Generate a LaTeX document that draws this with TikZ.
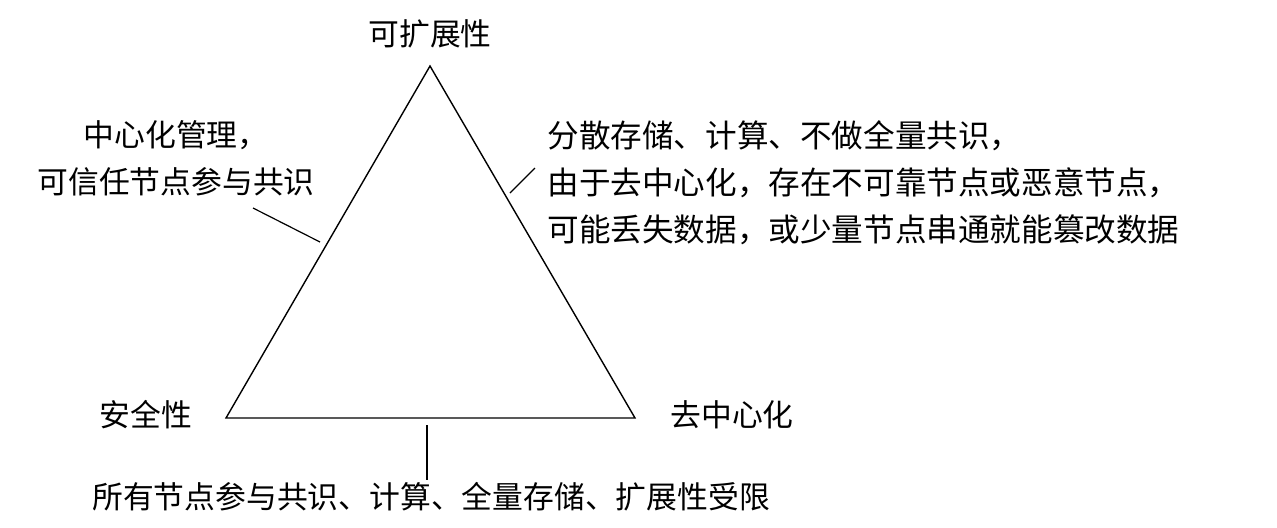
\documentclass[tikz,border=0pt]{standalone}
\usepackage{fontspec}
\setmainfont{Noto Sans CJK SC}
\begin{document}
\begin{tikzpicture}[x=0.5pt,y=-0.5pt,
  lbl/.style={inner sep=0pt,font=\fontsize{15.4}{23.5}\selectfont},
  wide/.style={inner sep=0pt,font=\fontsize{15.8}{23.5}\selectfont},
  edge/.style={draw=black,line width=0.7pt},
  tick/.style={draw=black,line width=0.6pt}]
\useasboundingbox (0,0) rectangle (1277,527);
\coordinate (top) at (430,66);
\coordinate (bl) at (226,418);
\coordinate (br) at (635,418);
\draw[edge,line join=miter] (top) -- (bl) -- (br) -- cycle;
\node[lbl] (tlab) at (430,34) {可扩展性};
\node[lbl] (llab) at (146,415) {安全性};
\node[lbl] (rlab) at (732,415) {去中心化};
\node[lbl,align=center] (ltxt) at (176,158) {中心化管理，\\可信任节点参与共识};
\node[wide,align=left,anchor=west] (rtxt) at (547,183) {分散存储、计算、不做全量共识，\\由于去中心化，存在不可靠节点或恶意节点，\\可能丢失数据，或少量节点串通就能篡改数据};
\node[lbl] (btxt) at (431,497) {所有节点参与共识、计算、全量存储、扩展性受限};
\coordinate (l1) at (253,208);
\coordinate (l2) at (320,242);
\coordinate (r1) at (510,193);
\coordinate (r2) at (535,168);
\coordinate (b1) at (427,425);
\coordinate (b2) at (427,480);
\draw[tick] (l1) -- (l2);
\draw[tick] (r1) -- (r2);
\draw[tick] (b1) -- (b2);
\end{tikzpicture}
\end{document}
